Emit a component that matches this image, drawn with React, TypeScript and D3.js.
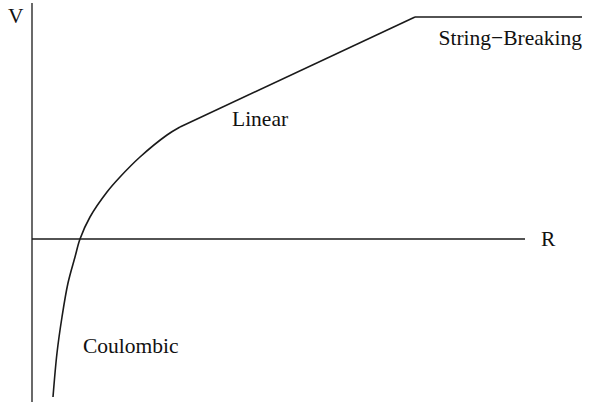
import React from "react";
import * as d3 from "d3";

const W = 589;
const H = 402;

// Curve sample points: [R, V] in arbitrary units
const coulombicR = [0.42, 0.5, 0.6, 0.72, 0.86, 0.96, 1.16, 1.5, 1.76, 2.16, 2.7, 2.96];
const coulombicV = [-3.16, -2.28, -1.56, -0.88, -0.36, 0, 0.44, 0.94, 1.24, 1.64, 2.08, 2.24];
const linearR = [2.96, 7.66];
const linearV = [2.24, 4.44];
const flatR = [7.66, 11.0];
const flatV = [4.44, 4.44];

const axisLabels = ["V", "R"];
const regionLabels = ["Coulombic", "Linear", "String\u2212Breaking"];

export default function App() {
  const x = d3.scaleLinear().domain([0, 11]).range([32, 582]);
  const y = d3.scaleLinear().domain([0, 4.44]).range([239, 17]);

  const curve = d3
    .line<number>()
    .x((_, i) => x(coulombicR[i]))
    .y((d) => y(d))
    .curve(d3.curveCatmullRom.alpha(0.5));
  const straight = (rs: number[]) =>
    d3
      .line<number>()
      .x((_, i) => x(rs[i]))
      .y((d) => y(d));

  const font = "'Liberation Serif', 'Times New Roman', serif";
  const stroke = "#1a1a1a";
  const fs = 21.5;

  return (
    <svg
      width={W}
      height={H}
      style={{ position: "absolute", left: 0, top: 0, background: "#fff" }}
    >
      {/* axes */}
      <line x1={x(0)} x2={x(0)} y1={3} y2={H} stroke={stroke} strokeWidth={1.3} />
      <line x1={x(0)} x2={525} y1={y(0)} y2={y(0)} stroke={stroke} strokeWidth={1.3} />
      <text x={8} y={23} fontFamily={font} fontSize={fs} fill="#111">
        {axisLabels[0]}
      </text>
      <text x={541} y={246} fontFamily={font} fontSize={fs} fill="#111">
        {axisLabels[1]}
      </text>

      {/* potential curve */}
      <path d={curve(coulombicV) || ""} fill="none" stroke={stroke} strokeWidth={1.6} />
      <path d={straight(linearR)(linearV) || ""} fill="none" stroke={stroke} strokeWidth={1.6} />
      <path d={straight(flatR)(flatV) || ""} fill="none" stroke={stroke} strokeWidth={1.6} />

      {/* region labels */}
      <text x={83} y={353} fontFamily={font} fontSize={fs} fill="#111">
        {regionLabels[0]}
      </text>
      <text x={232} y={126} fontFamily={font} fontSize={fs} fill="#111">
        {regionLabels[1]}
      </text>
      <text x={582} y={45} textAnchor="end" fontFamily={font} fontSize={fs} fill="#111">
        {regionLabels[2]}
      </text>
    </svg>
  );
}
